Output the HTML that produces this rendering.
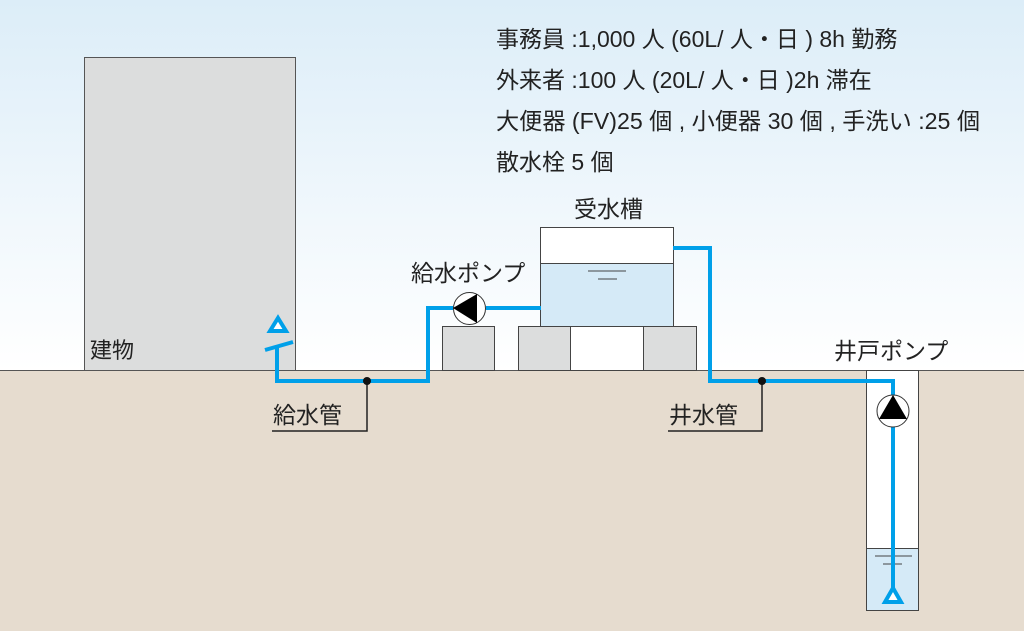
<!DOCTYPE html>
<html><head><meta charset="utf-8"><style>
html,body{margin:0;padding:0;width:1024px;height:631px;overflow:hidden}
svg{display:block}
text{font-family:"Liberation Sans","Noto Sans CJK JP",sans-serif;fill:#222}
</style></head><body>
<svg width="1024" height="631" viewBox="0 0 1024 631" xmlns="http://www.w3.org/2000/svg">
<defs><linearGradient id="sky" x1="0" y1="0" x2="0" y2="1">
<stop offset="0" stop-color="#dcedf8"/><stop offset="1" stop-color="#ffffff"/></linearGradient></defs>
<rect x="0" y="0" width="1024" height="370" fill="url(#sky)"/>
<rect x="0" y="370" width="1024" height="261" fill="#e6dccf"/>
<line x1="0" y1="370.5" x2="1024" y2="370.5" stroke="#555" stroke-width="1"/>
<rect x="84.5" y="57.5" width="211" height="313" fill="#dcdddd" stroke="#555" stroke-width="1"/>
<text x="90" y="358" font-size="22">建物</text>
<rect x="442.5" y="326.5" width="52" height="44" fill="#dcdddd" stroke="#444"/>
<rect x="518.5" y="326.5" width="52" height="44" fill="#dcdddd" stroke="#444"/>
<rect x="570.5" y="326.5" width="73" height="44" fill="#fff" stroke="#444"/>
<rect x="643.5" y="326.5" width="53" height="44" fill="#dcdddd" stroke="#444"/>
<rect x="540.5" y="227.5" width="133" height="99" fill="#fff" stroke="#444"/>
<rect x="540.5" y="263.5" width="133" height="63" fill="#d5eaf7" stroke="#444"/>
<line x1="588" y1="271" x2="626" y2="271" stroke="#444"/>
<line x1="598" y1="279" x2="617" y2="279" stroke="#444"/>
<text x="574" y="217" font-size="23">受水槽</text>
<text x="411" y="281" font-size="23">給水ポンプ</text>
<rect x="866.5" y="370.5" width="52" height="240" fill="#fff" stroke="#444"/>
<rect x="866.5" y="548.5" width="52" height="62" fill="#d5eaf7" stroke="#444"/>
<line x1="875" y1="556" x2="912" y2="556" stroke="#444"/>
<line x1="883" y1="564" x2="902" y2="564" stroke="#444"/>
<text x="834" y="359" font-size="23">井戸ポンプ</text>
<g fill="none" stroke="#00a0e9" stroke-width="4">
<polyline points="277,347 277,381 428,381 428,308 453,308"/>
<line x1="486" y1="308" x2="541" y2="308"/>
<polyline points="673,248 710,248 710,381 893,381 893,396"/>
<line x1="893" y1="427" x2="893" y2="590"/>
<line x1="265" y1="350" x2="293" y2="342"/>
</g>
<polygon points="278,318 286,331 270,331" fill="#fff" stroke="#00a0e9" stroke-width="4"/>
<polygon points="893,588 901,602 885,602" fill="#fff" stroke="#00a0e9" stroke-width="4"/>
<circle cx="469.5" cy="308.5" r="16" fill="#fff" stroke="#333"/>
<polygon points="453,308 477,294 477,323" fill="#000"/>
<circle cx="893" cy="411" r="16" fill="#fff" stroke="#333"/>
<polygon points="893,395 879,419 907,419" fill="#000"/>
<g stroke="#222" stroke-width="1.5" fill="none">
<polyline points="367,381 367,431 272,431"/>
<polyline points="762,381 762,431 668,431"/>
</g>
<circle cx="367" cy="381" r="4" fill="#111"/>
<circle cx="762" cy="381" r="4" fill="#111"/>
<text x="273" y="423" font-size="23">給水管</text>
<text x="669" y="423" font-size="23">井水管</text>
<g font-size="23">
<text x="496" y="47">事務員 :1,000 人 (60L/ 人・日 ) 8h 勤務</text>
<text x="496" y="88">外来者 :100 人 (20L/ 人・日 )2h 滞在</text>
<text x="496" y="129" textLength="484" lengthAdjust="spacingAndGlyphs">大便器 (FV)25 個 , 小便器 30 個 , 手洗い :25 個</text>
<text x="496" y="170">散水栓 5 個</text>
</g>
</svg>
</body></html>
